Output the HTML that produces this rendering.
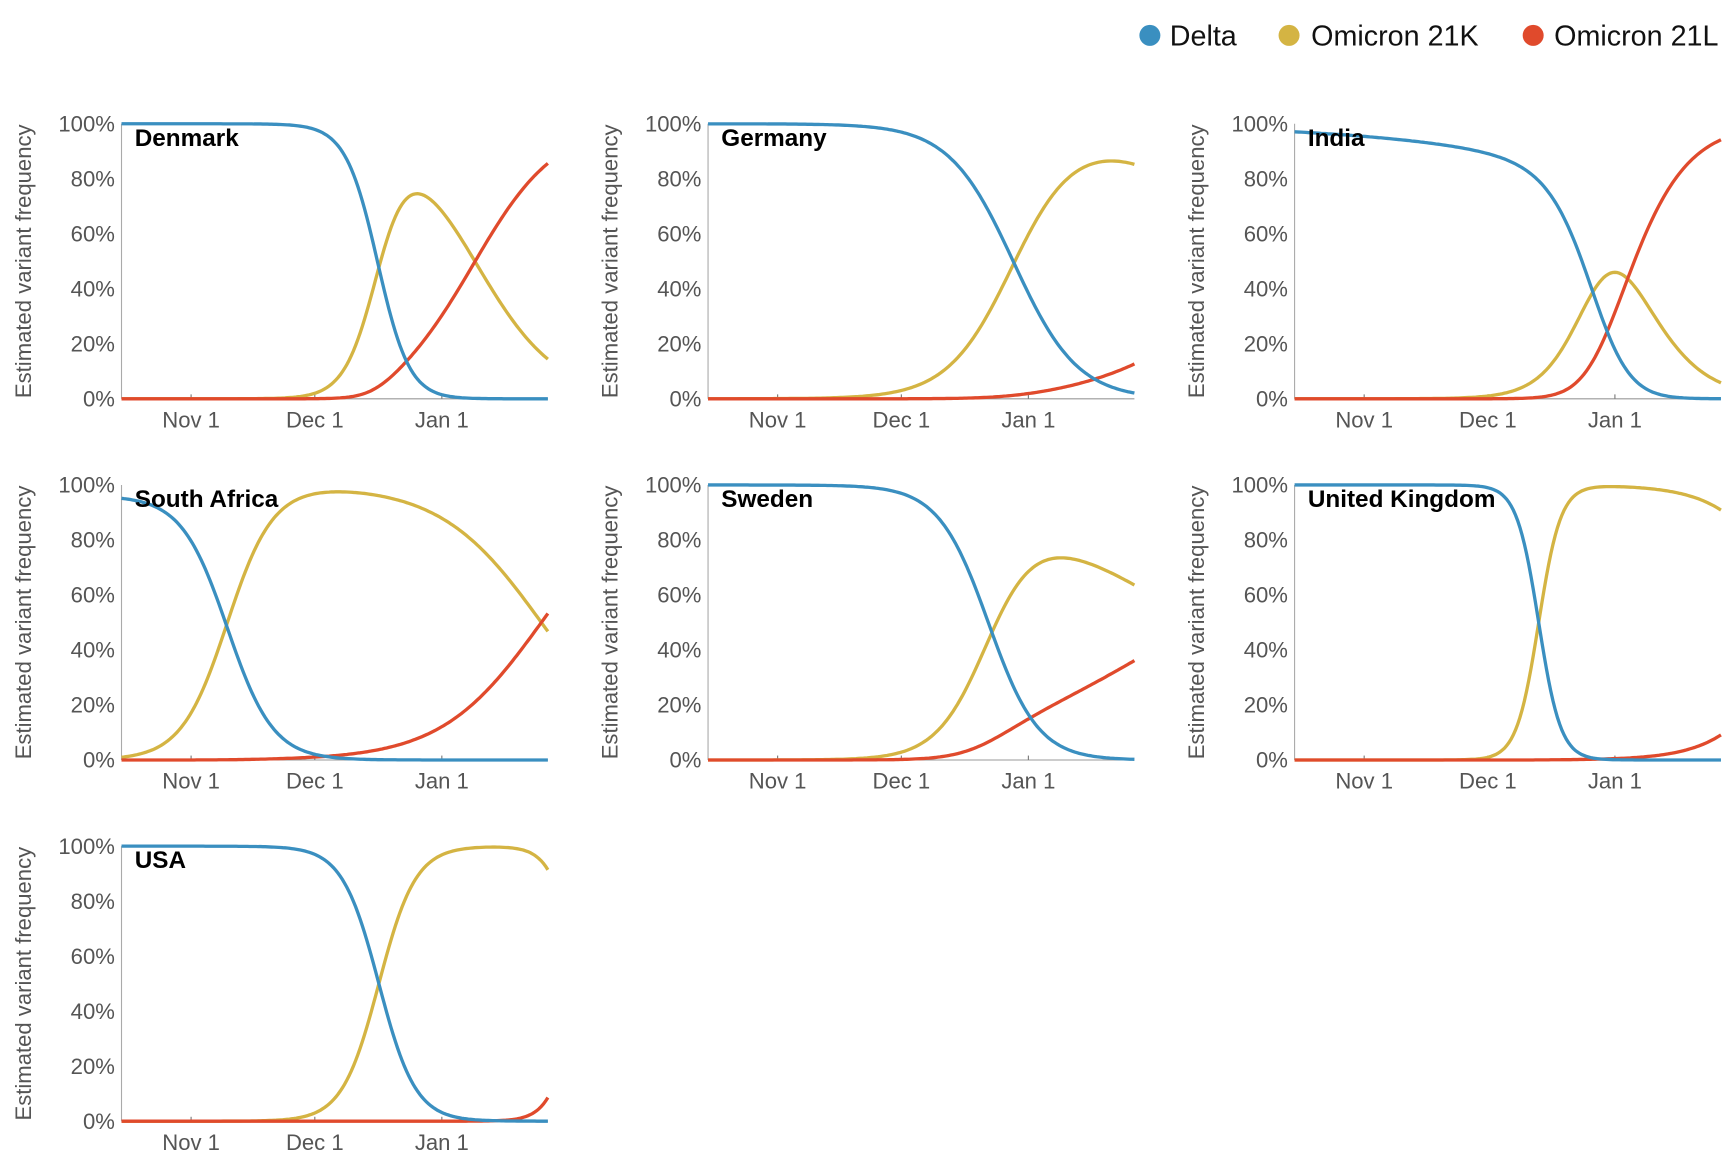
<!DOCTYPE html>
<html><head><meta charset="utf-8"><style>
html,body{margin:0;padding:0;background:#fff;}
svg{display:block;font-family:"Liberation Sans",Arial,sans-serif;}
</style></head><body>
<svg id="s" width="1732" height="1160" viewBox="0 0 1568 1050.1" xmlns="http://www.w3.org/2000/svg">
<rect width="1568" height="1051" fill="#fff"/>
<g font-size="26" fill="#111">
<circle cx="1041" cy="32" r="9.5" fill="#3a8fc0"/><text x="1059" y="41">Delta</text>
<circle cx="1167" cy="32" r="9.5" fill="#d4b443"/><text x="1187" y="41">Omicron 21K</text>
<circle cx="1388" cy="32" r="9.5" fill="#e04a2c"/><text x="1407" y="41">Omicron 21L</text>
</g>
<g id="p"></g>
</svg>
<script>
var panels=[
 {n:"Denmark",c:0,r:0,gk:0.067,ck:233,gr:0.094,cr:258,o0:-9,go:0},
 {n:"Germany",c:1,r:0,gk:0.034,ck:277,gr:0.05,cr:350,o0:-9,go:0},
 {n:"India",c:2,r:0,gk:0.047,ck:270,gr:0.08,cr:283,o0:-3.5,go:0.0074},
 {n:"South Africa",c:0,r:1,gk:0.048,ck:95,gr:0.070,cr:184.6,o0:-3.2,go:0},
 {n:"Sweden",c:1,r:1,gk:0.043,ck:257,gr:0.053,cr:292,o0:-9,go:0},
 {n:"United Kingdom",c:2,r:1,gk:0.1,ck:221,gr:0.131,cr:277.6,o0:-9,go:0},
 {n:"USA",c:0,r:2,gk:0.06,ck:233,gr:0.145,cr:339,o0:-9,go:0}
];
var h="";
panels.forEach(p=>{
 var X0=110+531*p.c, T=112+327*p.r, B=T+249, W=386, H=249;
 var px=x=>X0+x, py=v=>B-v*H;
 h+='<line x1="'+X0+'" y1="'+T+'" x2="'+X0+'" y2="'+B+'" stroke="#aaa" stroke-width="1"/>';
 h+='<line x1="'+X0+'" y1="'+B+'" x2="'+(X0+W)+'" y2="'+B+'" stroke="#999" stroke-width="1"/>';
 for(var i=0;i<=5;i++){h+='<text x="'+(X0-6)+'" y="'+(py(i/5)+7)+'" text-anchor="end" font-size="20" fill="#555">'+(i*20)+'%</text>';}
 [[63,"Nov 1"],[175,"Dec 1"],[290,"Jan 1"]].forEach(t=>{
  h+='<line x1="'+px(t[0])+'" y1="'+B+'" x2="'+px(t[0])+'" y2="'+(B-4)+'" stroke="#777"/>';
  h+='<text x="'+px(t[0])+'" y="'+(B+26)+'" text-anchor="middle" font-size="20" fill="#555">'+t[1]+'</text>';});
 var cy=(T+B)/2;
 h+='<text transform="translate('+(X0-82)+','+cy+') rotate(-90)" text-anchor="middle" font-size="20" fill="#555">Estimated variant frequency</text>';
 var b=[],y=[],r=[];
 for(var x=0;x<=W;x+=2){
  var ek=Math.exp(p.gk*(x-p.ck)), er=Math.exp(p.gr*(x-p.cr)), eo=Math.exp(p.o0+p.go*x);
  var S=1+ek+er+eo;
  b.push(px(x).toFixed(1)+','+py(1/S).toFixed(1));
  y.push(px(x).toFixed(1)+','+py(ek/S).toFixed(1));
  r.push(px(x).toFixed(1)+','+py(er/S).toFixed(1));
 }
 [[y,"#d4b443"],[r,"#e04a2c"],[b,"#3a8fc0"]].forEach(a=>{
  h+='<polyline points="'+a[0].join(' ')+'" fill="none" stroke="'+a[1]+'" stroke-width="3"/>';});
 h+='<text x="'+(X0+12)+'" y="'+(T+20)+'" font-size="22" font-weight="bold" fill="#000">'+p.n+'</text>';
});
document.getElementById('p').innerHTML=h;
</script>
</body></html>
